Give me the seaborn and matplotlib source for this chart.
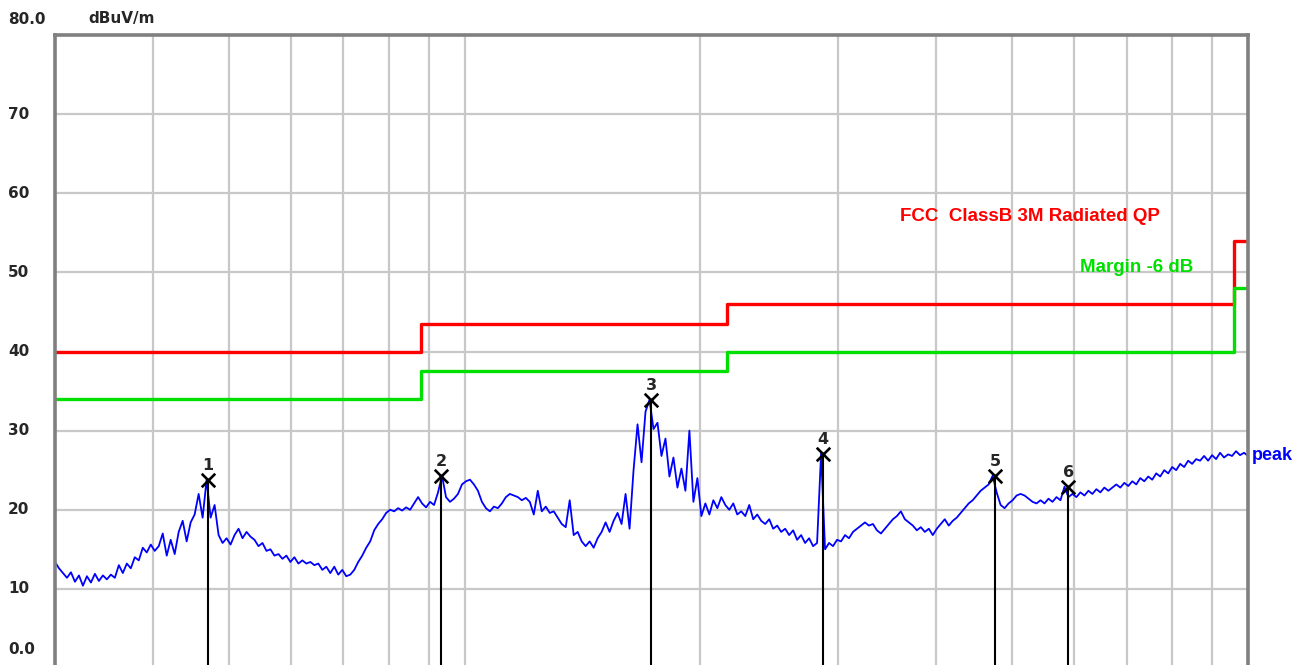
import numpy as np
import pandas as pd
import matplotlib
matplotlib.use('Agg')
import matplotlib.pyplot as plt
import seaborn as sns

# ── Data ─────────────────────────────────────
F_START, F_STOP = 30, 1000

PEAK_DB = [
    13.4, 12.6, 12.0, 11.4, 12.1, 10.9, 11.7, 10.4, 11.6, 10.8,
    11.9, 11.0, 11.7, 11.2, 11.8, 11.4, 13.0, 12.0, 13.2, 12.6,
    14.0, 13.6, 15.2, 14.6, 15.6, 14.8, 15.4, 17.0, 14.2, 16.2,
    14.4, 17.2, 18.6, 16.0, 18.4, 19.4, 22.0, 19.0, 23.8, 19.0,
    20.6, 16.8, 15.8, 16.4, 15.6, 16.8, 17.6, 16.4, 17.2, 16.6,
    16.2, 15.4, 15.8, 14.8, 15.0, 14.2, 14.4, 13.8, 14.2, 13.4,
    14.0, 13.2, 13.6, 13.2, 13.4, 13.0, 13.2, 12.4, 12.8, 12.0,
    12.8, 11.8, 12.4, 11.6, 11.8, 12.4, 13.4, 14.2, 15.2, 16.0,
    17.4, 18.2, 18.8, 19.6, 20.0, 19.8, 20.2, 19.9, 20.3, 20.0,
    20.8, 21.6, 20.8, 20.3, 21.0, 20.6, 22.2, 24.3, 21.6, 21.0,
    21.4, 22.0, 23.2, 23.6, 23.8, 23.2, 22.4, 21.0, 20.2, 19.8,
    20.4, 20.2, 20.8, 21.6, 22.0, 21.8, 21.6, 21.2, 21.5, 21.0,
    19.4, 22.4, 19.8, 20.4, 19.6, 19.8, 19.0, 18.2, 17.8, 21.2,
    16.8, 17.2, 16.0, 15.4, 16.0, 15.2, 16.4, 17.2, 18.4, 17.2,
    18.6, 19.6, 18.2, 22.0, 17.6, 25.0, 30.8, 26.0, 32.4, 33.9,
    30.2, 31.0, 26.8, 29.0, 24.2, 26.6, 22.8, 25.2, 22.4, 30.0,
    21.0, 24.0, 19.2, 20.8, 19.4, 21.2, 20.2, 21.6, 20.6, 20.0,
    20.8, 19.4, 19.8, 19.2, 20.6, 18.8, 19.4, 18.6, 18.2, 18.8,
    17.6, 18.0, 17.2, 17.6, 16.8, 17.4, 16.2, 16.8, 15.8, 16.4,
    15.4, 15.8, 27.1, 15.0, 15.8, 15.4, 16.2, 16.0, 16.8, 16.4,
    17.2, 17.6, 18.0, 18.4, 18.0, 18.2, 17.4, 17.0, 17.6, 18.2,
    18.8, 19.2, 19.8, 18.8, 18.4, 18.0, 17.4, 17.8, 17.2, 17.6,
    16.8, 17.6, 18.2, 18.8, 18.0, 18.6, 19.0, 19.6, 20.2, 20.8,
    21.2, 21.8, 22.4, 22.8, 23.2, 24.3, 22.2, 20.6, 20.2, 20.8,
    21.2, 21.8, 22.0, 21.8, 21.4, 21.0, 20.8, 21.2, 20.8, 21.4,
    21.0, 21.6, 21.2, 22.9, 21.6, 22.0, 21.6, 22.2, 21.8, 22.4,
    22.0, 22.6, 22.2, 22.8, 22.4, 22.8, 23.2, 22.8, 23.4, 23.0,
    23.6, 23.2, 24.0, 23.6, 24.2, 23.8, 24.6, 24.2, 25.0, 24.6,
    25.4, 25.0, 25.8, 25.4, 26.2, 25.8, 26.4, 26.2, 26.8, 26.2,
    26.9, 26.4, 27.2, 26.6, 27.0, 26.8, 27.4, 26.9, 27.2, 26.8,
]
PEAK_FREQ = np.geomspace(F_START, F_STOP, len(PEAK_DB))

LIMIT_FREQ = [30, 88, 216, 960, 1000]
LIMIT_DB   = [40, 43.5, 46, 54, 54]
MARGIN_DB  = [v - 6 for v in LIMIT_DB]

MARK_FREQ  = [47.0, 93.3, 173.1, 287.0, 476.0, 590.0]
MARK_DB    = [23.8, 24.3, 33.9, 27.1, 24.3, 22.9]
MARK_NAMES = ['1', '2', '3', '4', '5', '6']

GRID_FREQ  = [30, 40, 50, 60, 70, 80, 90, 100, 200, 300, 400, 500,
              600, 700, 800, 900, 1000]
Y_LABELS   = ['10', '20', '30', '40', '50', '60', '70']

# ── Style ────────────────────────────────────
sns.set_style('white')
plt.rcParams['font.family'] = ['DejaVu Sans']

RED   = '#ff0000'
GREEN = '#00e000'
BLUE  = '#0000ff'
GRIDC = '#c8c8c8'
FRAME = '#808080'
LAB_FONT = ['Liberation Sans', 'DejaVu Sans']

fig = plt.figure(figsize=(13.06, 6.65), dpi=100)
ax = fig.add_axes([55/1306, -3/665, 1193/1306, 633/665])

ax.set_xscale('log')
ax.set_xlim(F_START, F_STOP)
ax.set_ylim(0, 80)

ax.set_xticks(GRID_FREQ)
ax.set_xticks([], minor=True)
ax.set_yticks(np.arange(0, 81, 10))
ax.tick_params(length=0, labelleft=False, labelbottom=False)
ax.grid(True, color=GRIDC, linewidth=1.6)
ax.set_axisbelow(True)
for side in ['left', 'top', 'right']:
    ax.spines[side].set_color(FRAME)
    ax.spines[side].set_linewidth(2.6)
ax.spines['bottom'].set_visible(False)

# limit + margin lines
ax.step(LIMIT_FREQ, LIMIT_DB, where='post', color=RED, linewidth=2.4)
ax.step(LIMIT_FREQ, MARGIN_DB, where='post', color=GREEN, linewidth=2.4)

# peak trace
trace = pd.DataFrame({'freq': PEAK_FREQ, 'level': PEAK_DB})
sns.lineplot(data=trace, x='freq', y='level', color=BLUE, linewidth=1.3,
             ax=ax, estimator=None)
ax.set_xlabel('')
ax.set_ylabel('')

# markers
ax.vlines(MARK_FREQ, 0, MARK_DB, color='black', linewidth=1.5)
ax.scatter(MARK_FREQ, MARK_DB, marker='x', s=95, color='black',
           linewidths=1.9, zorder=5)
for f, v, name in zip(MARK_FREQ, MARK_DB, MARK_NAMES):
    ax.annotate(name, (f, v), xytext=(0, 5), textcoords='offset points',
                ha='center', va='bottom', fontsize=11.5, fontweight='bold')

# labels
ax.text(360, 57, 'FCC  ClassB 3M Radiated QP', color=RED, fontsize=13.5,
        fontweight='bold', va='center', ha='left', family=LAB_FONT)
ax.text(611, 50.6, 'Margin -6 dB', color=GREEN, fontsize=13.5,
        fontweight='bold', va='center', ha='left', family=LAB_FONT)
ax.annotate('peak', (F_STOP, PEAK_DB[-1]), xytext=(3, 0),
            textcoords='offset points', color=BLUE, fontsize=13,
            fontweight='bold', va='center', ha='left', annotation_clip=False,
            family=LAB_FONT)

# y labels
ytrans = ax.get_yaxis_transform()
for i, lab in enumerate(Y_LABELS):
    ax.text(-47/1193, (i + 1) * 10, lab, transform=ytrans, fontsize=11,
            fontweight='bold', va='center', ha='left')
fig.text(8/1306, 1 - 20/665, '80.0', fontsize=11, fontweight='bold',
         va='center', ha='left')
fig.text(8/1306, 1 - 649/665, '0.0', fontsize=11, fontweight='bold',
         va='center', ha='left')
fig.text(88/1306, 1 - 18/665, 'dBuV/m', fontsize=11, fontweight='bold',
         va='center', ha='left')

fig.savefig('out.png', dpi=100)
